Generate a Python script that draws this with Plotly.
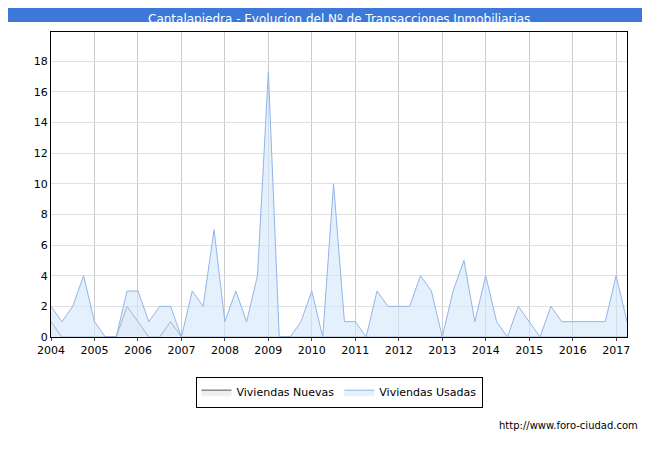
import plotly.graph_objects as go

years = list(range(2004, 2018))
x_vals = [2004 + i * 0.25 for i in range(54)]

usadas = [2, 1, 2, 4, 1, 0, 0, 3, 3, 1, 2, 2, 0, 3, 2, 7,
          1, 3, 1, 4, 17.3, 0, 0, 1, 3, 0, 10, 1, 1, 0, 3, 2,
          2, 2, 4, 3, 0, 3, 5, 1, 4, 1, 0, 2, 1, 0, 2, 1,
          1, 1, 1, 1, 4, 1]
nuevas = [1, 0, 0, 0, 0, 0, 0, 2, 1, 0, 0, 1, 0, 0, 0, 0,
          0, 0, 0, 0, 0, 0, 0, 0, 0, 0, 0, 0, 0, 0, 0, 0,
          0, 0, 0, 0, 0, 0, 0, 0, 0, 0, 0, 0, 0, 0, 0, 0,
          0, 0, 0, 0, 0, 0]

fig = go.Figure()
fig.add_trace(go.Scatter(x=x_vals, y=nuevas, name="Viviendas Nuevas", mode="lines",
                         line=dict(color="#555555", width=1), fill="tozeroy",
                         fillcolor="rgba(238,238,238,0.95)"))
fig.add_trace(go.Scatter(x=x_vals, y=usadas, name="Viviendas Usadas", mode="lines",
                         line=dict(color="#92b4ea", width=1), fill="tozeroy",
                         fillcolor="rgba(215,232,252,0.65)"))

fig.update_xaxes(range=[2004, 2017.25], tickvals=years, ticktext=[str(y) for y in years],
                 showgrid=True, gridcolor="#cccccc", zeroline=False, showline=True,
                 linecolor="black", mirror=True, ticks="outside", ticklen=3)
fig.update_yaxes(range=[0, 19.9], dtick=2, showgrid=True, gridcolor="#e0e0e0",
                 zeroline=False, showline=True, linecolor="black", mirror=True)

fig.update_layout(
    width=650, height=450,
    font=dict(family="DejaVu Sans", size=11, color="black"),
    paper_bgcolor="white", plot_bgcolor="white",
    margin=dict(l=43, r=31, t=24, b=121),
    showlegend=True,
    legend=dict(orientation="h", x=0.5, xanchor="center", y=-0.13, yanchor="top",
                bordercolor="black", borderwidth=1, font=dict(size=11)),
    shapes=[dict(type="rect", xref="paper", yref="paper", x0=-0.09, x1=1.04,
                 y0=1.0 + 10 / 305, y1=1.0 + 30 / 305, fillcolor="#3b78d8",
                 line=dict(width=0), layer="below")],
    annotations=[
        dict(text="Cantalapiedra - Evolucion del Nº de Transacciones Inmobiliarias",
             xref="paper", yref="paper", x=0.5, y=1.0 + 13 / 305, showarrow=False,
             font=dict(color="white", size=12), yanchor="middle"),
        dict(text="http://www.foro-ciudad.com", xref="paper", yref="paper",
             x=1.0226, y=-0.315, xanchor="right", showarrow=False, font=dict(size=10)),
    ],
)

fig.write_html("out.html")
